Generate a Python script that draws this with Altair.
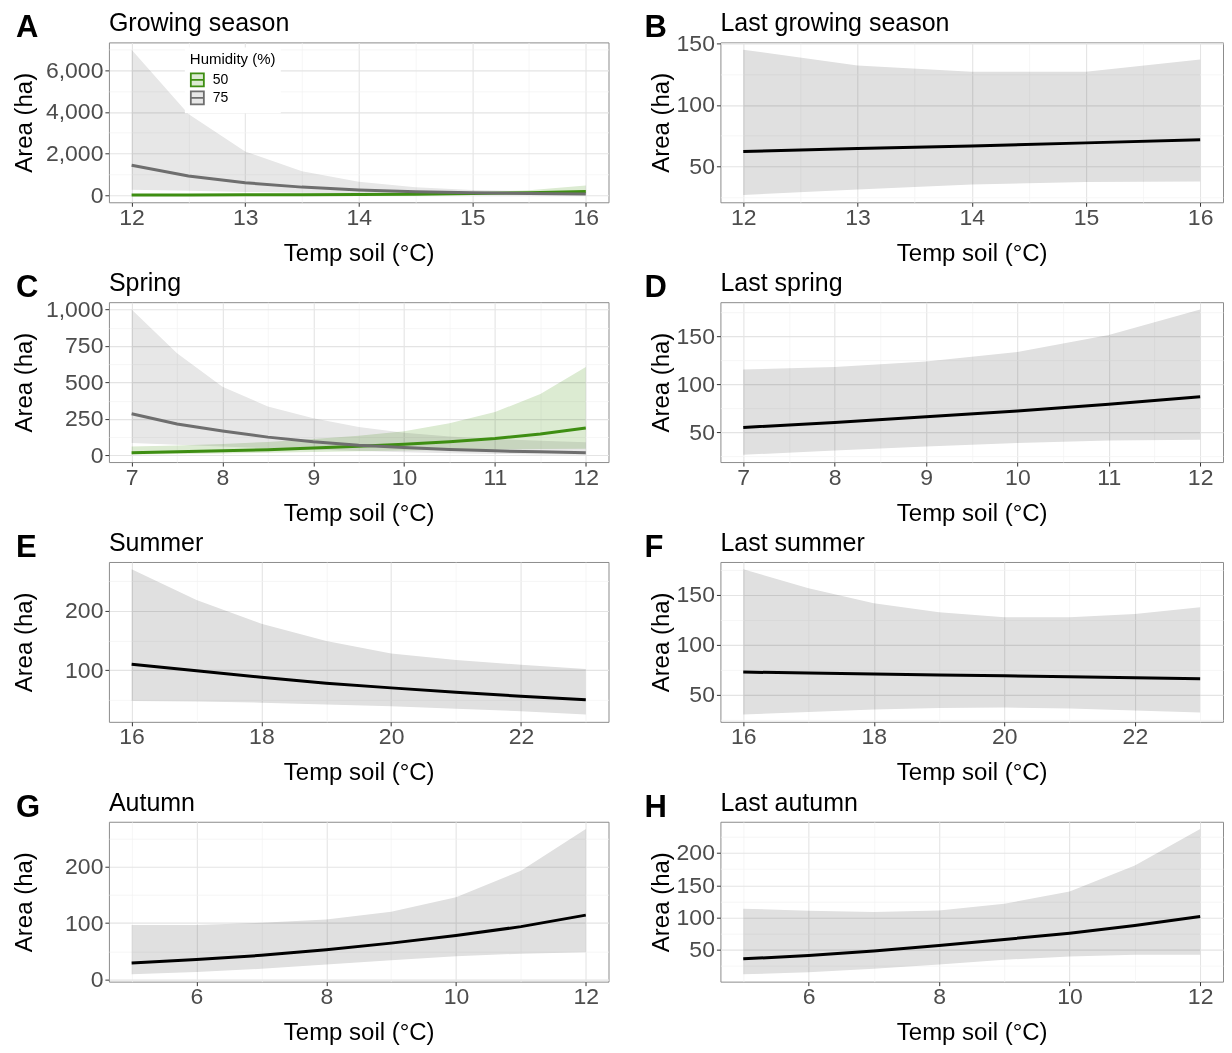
import math
import altair as alt
import pandas as pd

FONT = "Liberation Sans"
GREEN = "#3e8e12"
GRAY_LINE = "#6e6e6e"
GREEN_BAND = "#dcebd2"
GRAY_BAND_2 = "#e7e7e7"
GRAY_BAND = "#e0e0e0"

# ---------------- data ----------------
# A: Growing season, two humidity levels
A_temp = [12, 12.5, 13, 13.5, 14, 14.5, 15, 15.5, 16]
A_fit_50 = [4, 6, 10, 16, 26, 42, 68, 110, 175]
A_lo_50 = [0.5, 1, 2.5, 5, 11, 22, 38, 55, 67]
A_hi_50 = [30, 35, 40, 50, 60, 80, 120, 230, 460]
A_fit_75 = [1430, 920, 590, 380, 245, 160, 105, 68, 45]
A_lo_75 = [250, 200, 150, 110, 80, 55, 35, 20, 10]
A_hi_75 = [7000, 3900, 2100, 1150, 640, 370, 240, 180, 160]

# B: Last growing season
B_temp = [12, 13, 14, 15, 16]
B_fit = [62, 64.5, 66.5, 69, 71.5]
B_lo = [26.5, 31, 35, 37, 37.5]
B_hi = [145, 132, 127, 127, 137]

# C: Spring, two humidity levels
C_temp = [7, 7.5, 8, 8.5, 9, 9.5, 10, 10.5, 11, 11.5, 12]
C_fit_50 = [18, 24, 31, 39, 50, 62, 76, 94, 116, 147, 188]
C_lo_50 = [6, 9, 13, 18, 23, 28, 33, 37, 40, 43, 46]
C_hi_50 = [60, 68, 78, 92, 112, 135, 165, 220, 297, 420, 605]
C_fit_75 = [285, 215, 167, 125, 93, 70, 54, 41, 31, 24, 18]
C_lo_75 = [85, 72, 60, 50, 40, 30, 22, 15, 10, 6, 4]
C_hi_75 = [1000, 700, 470, 335, 255, 195, 155, 130, 112, 100, 90]

# D: Last spring
D_temp = [7, 8, 9, 10, 11, 12]
D_fit = [55.2, 60.3, 66.2, 72.4, 79.3, 87.2]
D_lo = [26.6, 31, 35.2, 39, 41.4, 42.4]
D_hi = [115.5, 118.3, 124, 134, 151.7, 178.3]

# E: Summer
E_temp = [16, 17, 18, 19, 20, 21, 22, 23]
E_fit = [110, 98.9, 87.8, 77.8, 70, 62.8, 56, 50]
E_lo = [47.8, 47, 45, 42, 39, 35, 30.6, 25]
E_hi = [270, 218, 178, 149, 128, 117, 109, 102]

# F: Last summer
F_temp = [16, 17, 18, 19, 20, 21, 22, 23]
F_fit = [72.5, 71.5, 70.5, 69.6, 68.7, 67.7, 66.7, 65.8]
F_lo = [29.8, 32.5, 34.8, 36.4, 36.8, 35.8, 34, 31.8]
F_hi = [175.8, 156.6, 141.7, 132.5, 127.5, 127.5, 130.8, 137.7]

# G: Autumn
G_temp = [5, 6, 7, 8, 9, 10, 11, 12]
G_fit = [29, 35, 42.7, 52.6, 64.3, 77.8, 93.6, 114]
G_lo = [8.8, 12.9, 18.7, 26.3, 34, 41, 45.6, 48]
G_hi = [96.5, 96.5, 100.6, 106.4, 120, 146, 193, 267]

# H: Last autumn
H_temp = [5, 6, 7, 8, 9, 10, 11, 12]
H_fit = [36, 41.2, 48, 56.7, 66, 75.8, 87.7, 101.7]
H_lo = [12, 15.4, 20.5, 27.3, 34.5, 39.7, 42.2, 42.2]
H_hi = [113.6, 110.5, 108.4, 111, 121.3, 140.4, 180.7, 237]

HUMIDITY = ["50", "75"]
X_TITLE = "Temp soil (°C)"
Y_TITLE = "Area (ha)"


def expand(vals, frac=0.05):
    lo, hi = min(vals), max(vals)
    pad = (hi - lo) * frac
    return [lo - pad, hi + pad]


def tick_values(dom, step):
    half = step / 2.0
    v = math.ceil(dom[0] / half - 1e-9) * half
    out = []
    while v <= dom[1] + 1e-9:
        out.append(round(v, 6))
        v += half
    return out


def grid_axis(dom, step, fmt, title, **kw):
    major = f"abs(datum.value / {step} - round(datum.value / {step})) < 1e-6"
    minor = f"!({major})"
    return alt.Axis(
        values=tick_values(dom, step),
        format=fmt,
        title=title,
        labelExpr=f"{major} ? datum.label : ''",
        labelOverlap=False,
        labelFlush=False,
        tickOpacity={"condition": {"test": minor, "value": 0}, "value": 1},
        gridColor={"condition": {"test": minor, "value": "#f2f2f2"}, "value": "#e4e4e4"},
        gridWidth={"condition": {"test": minor, "value": 0.7}, "value": 1.1},
        **kw,
    )


def panel(letter, title, temps, series, xstep, ystep, yfmt, width, plot_left,
          right_col=False, legend=False):
    rows = []
    for name, fit, lo, hi in series:
        for t, f, l, h in zip(temps, fit, lo, hi):
            rows.append({"Temp": t, "Fit": f, "Lo": l, "Hi": h, "Humidity": name})
    df = pd.DataFrame(rows)
    allv = [v for _, f, l, h in series for v in (list(f) + list(l) + list(h))]
    ydom = expand(allv)
    xdom = expand(temps)

    if right_col:
        letter_x, ytitle_x = -76, -47
    else:
        letter_x, ytitle_x = 14 - plot_left, 35 - plot_left

    xaxis = grid_axis(xdom, xstep, ",.0f", X_TITLE, tickSize=4, labelPadding=0,
                      titlePadding=12)
    yaxis = grid_axis(ydom, ystep, yfmt, Y_TITLE, tickSize=4, labelPadding=2,
                      titleX=ytitle_x, titleAngle=270, titleBaseline="bottom")

    xs = alt.Scale(domain=xdom, nice=False, zero=False)
    ys = alt.Scale(domain=ydom, nice=False, zero=False)
    base = alt.Chart(df)

    if legend:
        leg = alt.Legend(
            title="Humidity (%)", orient="none", legendX=76, legendY=5,
            fillColor="white", padding=5, titleFontSize=15, labelFontSize=14,
            titleFontWeight="normal", titleColor="black", labelColor="black",
            titleFont=FONT, labelFont=FONT,
            symbolType="M-1,-1H1V1H-1Z M-1,0H1", symbolSize=170,
            symbolStrokeWidth=1.8, rowPadding=-4, titlePadding=5, labelOffset=8,
        )
        band = base.mark_area(blend="multiply").encode(
            x=alt.X("Temp:Q", scale=xs, axis=xaxis),
            y=alt.Y("Lo:Q", scale=ys, axis=yaxis),
            y2="Hi:Q",
            fill=alt.Fill("Humidity:N",
                          scale=alt.Scale(domain=HUMIDITY, range=[GREEN_BAND, GRAY_BAND_2]),
                          legend=leg),
        )
        line = base.mark_line(strokeWidth=3).encode(
            x=alt.X("Temp:Q", scale=xs, axis=xaxis),
            y=alt.Y("Fit:Q", scale=ys, axis=yaxis),
            stroke=alt.Stroke("Humidity:N",
                              scale=alt.Scale(domain=HUMIDITY, range=[GREEN, GRAY_LINE]),
                              legend=leg),
        )
    else:
        band = base.mark_area(blend="multiply", fill=GRAY_BAND).encode(
            x=alt.X("Temp:Q", scale=xs, axis=xaxis),
            y=alt.Y("Lo:Q", scale=ys, axis=yaxis),
            y2="Hi:Q",
        )
        line = base.mark_line(strokeWidth=3, color="black").encode(
            x=alt.X("Temp:Q", scale=xs, axis=xaxis),
            y=alt.Y("Fit:Q", scale=ys, axis=yaxis),
        )

    letter_txt = alt.Chart(pd.DataFrame({"t": [letter]})).mark_text(
        align="left", baseline="alphabetic", fontSize=31, fontWeight="bold",
        font=FONT, color="black",
    ).encode(text="t:N", x=alt.value(letter_x), y=alt.value(-5))
    title_txt = alt.Chart(pd.DataFrame({"t": [title]})).mark_text(
        align="left", baseline="alphabetic", fontSize=25, font=FONT, color="black",
    ).encode(text="t:N", x=alt.value(0), y=alt.value(-11))

    return alt.layer(band, line, letter_txt, title_txt).properties(
        width=width, height=160
    )


pA = panel("A", "Growing season", A_temp,
           [("50", A_fit_50, A_lo_50, A_hi_50), ("75", A_fit_75, A_lo_75, A_hi_75)],
           1, 2000, ",.0f", 500, 107, legend=True)
pB = panel("B", "Last growing season", B_temp, [("all", B_fit, B_lo, B_hi)],
           1, 50, ",.0f", 503, 719, right_col=True)
pC = panel("C", "Spring", C_temp,
           [("50", C_fit_50, C_lo_50, C_hi_50), ("75", C_fit_75, C_lo_75, C_hi_75)],
           1, 250, ",.0f", 500, 107, legend=True)
pD = panel("D", "Last spring", D_temp, [("all", D_fit, D_lo, D_hi)],
           1, 50, ",.0f", 503, 719, right_col=True)
pE = panel("E", "Summer", E_temp, [("all", E_fit, E_lo, E_hi)],
           2, 100, ",.0f", 500, 107)
pF = panel("F", "Last summer", F_temp, [("all", F_fit, F_lo, F_hi)],
           2, 50, ",.0f", 503, 719, right_col=True)
pG = panel("G", "Autumn", G_temp, [("all", G_fit, G_lo, G_hi)],
           2, 100, ",.0f", 500, 107)
pH = panel("H", "Last autumn", H_temp, [("all", H_fit, H_lo, H_hi)],
           2, 50, ",.0f", 503, 719, right_col=True)

chart = alt.concat(
    pA, pB, pC, pD, pE, pF, pG, pH,
    columns=2,
    align="none",
    spacing={"row": 4, "column": 34},
).properties(
    padding={"left": 4, "top": 2, "right": 0, "bottom": 0}, background="white"
).configure_view(
    stroke="#8c8c8c", strokeWidth=1
).configure_axis(
    domain=False,
    labelFont=FONT, labelFontSize=23, labelColor="#4d4d4d",
    titleFont=FONT, titleFontSize=24, titleColor="black", titleFontWeight="normal",
    tickColor="#333333", tickWidth=1,
)

chart.save("out.html", embed_options={"renderer": "svg", "actions": False})
